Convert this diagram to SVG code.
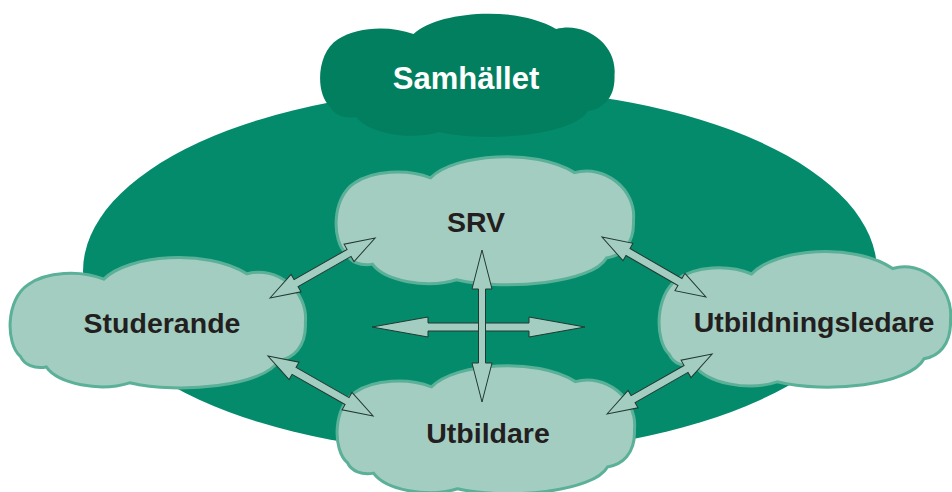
<svg xmlns="http://www.w3.org/2000/svg" xmlns:xlink="http://www.w3.org/1999/xlink" width="952" height="492" viewBox="0 0 952 492">
<style>
.lbl{font-family:"Liberation Sans",Arial,Helvetica,sans-serif;font-weight:bold;font-size:28.5px;fill:#231f20;text-anchor:middle}
.white{fill:#ffffff;font-size:31px}
.cloud{fill:#a4cdc1;stroke:#5bb098;stroke-width:3}
.dark{fill:#027f5f}
.arrow{fill:#a4cdc1;stroke:#22392f;stroke-width:1;stroke-linejoin:miter}
</style>
<defs>
<path id="cl" vector-effect="non-scaling-stroke" d="M 12,96 C -3,84 -3,42 20,28 C 38,16 72,14 96,23 C 120,0 200,-6 240,18 C 270,10 302,34 299,64 C 300,88 286,98 272,100 C 258,124 172,132 122,121 C 92,130 50,122 38,106 C 26,108 16,104 12,96 Z"/>
</defs>
<rect width="952" height="492" fill="#ffffff"/>
<g id="ellipse"><ellipse cx="480" cy="271" rx="397" ry="182" fill="#038b6c"/></g>
<g id="samhallet">
<use xlink:href="#cl" class="dark" transform="translate(318.5,11) scale(0.99,1.0)"/>
<text class="lbl white" x="466" y="89">Samhället</text>
</g>
<g id="srv">
<use xlink:href="#cl" class="cloud" transform="translate(334.5,153.9) scale(1.0,1.04)"/>
<text class="lbl" x="476" y="232">SRV</text>
</g>
<g id="studerande">
<use xlink:href="#cl" class="cloud" transform="translate(8.5,254.8) scale(0.993,1.058)"/>
<text class="lbl" x="162" y="333">Studerande</text>
</g>
<g id="utbildare">
<use xlink:href="#cl" class="cloud" transform="translate(335.5,362.9) scale(1.0,1.04)"/>
<text class="lbl" x="488" y="443">Utbildare</text>
</g>
<g id="utbildningsledare">
<use xlink:href="#cl" class="cloud" transform="translate(657.5,248.7) scale(0.98,1.1)"/>
<text class="lbl" x="814" y="332">Utbildningsledare</text>
</g>
<g id="connectors">
<polygon class="arrow" transform="translate(270,298) rotate(-29.7)" points="0,0 30,-10 30,-4 91,-4 91,-10 121,0 91,10 91,4 30,4 30,10"/>
<polygon class="arrow" transform="translate(602,237) rotate(30)" points="0,0 30,-10 30,-4 90,-4 90,-10 120,0 90,10 90,4 30,4 30,10"/>
<polygon class="arrow" transform="translate(268,356) rotate(29.7)" points="0,0 30,-10 30,-4 91,-4 91,-10 121,0 91,10 91,4 30,4 30,10"/>
<polygon class="arrow" transform="translate(607,414) rotate(-29.7)" points="0,0 30,-10 30,-4 91,-4 91,-10 121,0 91,10 91,4 30,4 30,10"/>
<polygon class="arrow" transform="translate(372,327)" points="0,0 56,-10 56,-4 157,-4 157,-10 213,0 157,10 157,4 56,4 56,10"/>
<polygon class="arrow" transform="translate(482,250) rotate(90)" points="0,0 39,-10 39,-3.5 113,-3.5 113,-10 152,0 113,10 113,3.5 39,3.5 39,10"/>
</g>
</svg>
